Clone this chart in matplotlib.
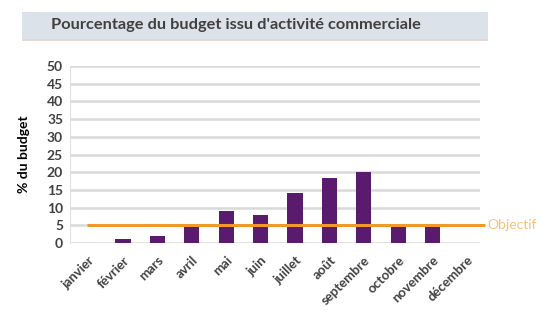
import matplotlib
matplotlib.use("Agg")
import matplotlib.pyplot as plt
from matplotlib.patches import Rectangle

months = ["janvier", "février", "mars", "avril", "mai", "juin", "juillet",
          "août", "septembre", "octobre", "novembre", "décembre"]
values = [0, 1.2, 2.0, 4.4, 9.0, 8.0, 14.0, 18.3, 20.0, 4.4, 4.4, 0]
objectif = 5
yticks = [0, 5, 10, 15, 20, 25, 30, 35, 40, 45, 50]
title = "Pourcentage du budget issu d'activité commerciale"
ylabel = "% du budget"
objectif_label = "Objectif"

plt.rcParams['font.family'] = ['Lato', 'DejaVu Sans']

fig = plt.figure(figsize=(5.41, 3.17), dpi=100)
W, H = 541, 317

# title box
fig.patches.append(Rectangle((22 / W, 1 - 39 / H), (488 - 22) / W, 27 / H,
                             transform=fig.transFigure, facecolor="#dce2e9",
                             edgecolor="none", zorder=0))
fig.patches.append(Rectangle((22 / W, 1 - 40.5 / H), (488 - 22) / W, 1.5 / H,
                             transform=fig.transFigure, facecolor="#e6d6d2",
                             edgecolor="none", zorder=0))
fig.text(51 / W, 1 - 25.5 / H, title, fontsize=11.8, fontweight="bold",
         color="#404040", va="center", ha="left")

ax = fig.add_axes([70 / W, 1 - 243 / H, (480 - 70) / W, (243 - 66) / H])
x = list(range(len(months)))
ax.bar(x, values, width=0.44, color="#5a1b6e", zorder=3)
ax.set_xlim(-0.54, 11.38)
ax.set_ylim(0, 50)
ax.set_yticks(yticks)
ax.set_yticklabels([str(t) for t in yticks], fontsize=10, fontweight="bold",
                   color="#404040")
ax.yaxis.grid(True, color="#d9d9d9", linewidth=1.8, zorder=0)
ax.set_axisbelow(True)
for s in ["top", "right", "bottom"]:
    ax.spines[s].set_visible(False)
ax.spines["left"].set_color("#e0e0e0")
ax.tick_params(axis="both", length=0, pad=5)
ax.set_xticks(x)
ax.set_xticklabels(months, rotation=45, ha="right", rotation_mode="anchor",
                   fontsize=9.5, fontweight="bold", color="#404040")
ax.tick_params(axis="x", pad=8)
ax.set_ylabel(ylabel, fontsize=10, fontweight="bold", color="#000000", labelpad=12)

# objectif line
ax.plot([-0.05, 11.52], [objectif, objectif], color="#f09a2c", linewidth=2.2,
        zorder=4, clip_on=False, solid_capstyle="butt")
ax.text(11.58, objectif, objectif_label, color="#f8c07a", fontsize=10,
        va="center", ha="left", clip_on=False)

fig.savefig("out.png", dpi=100)
